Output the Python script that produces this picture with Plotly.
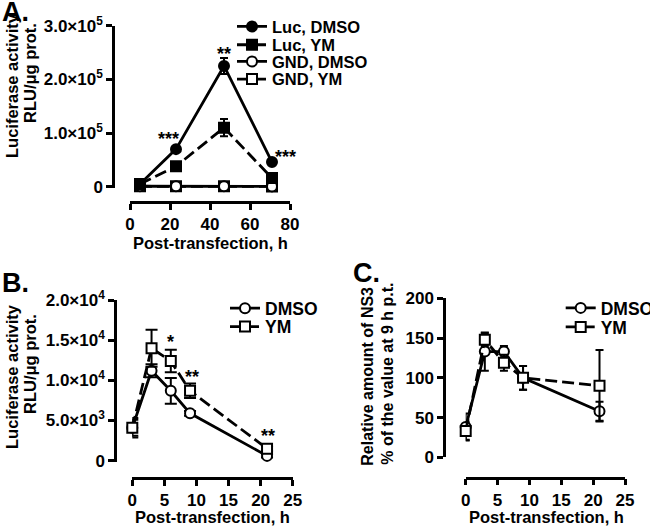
import plotly.graph_objects as go

W, H = 650, 527
FONT = "Liberation Sans"

# ---------------- data ----------------
# Panel A
a_x = [5, 23, 47, 71]
a_luc_dmso = [5000, 70000, 225000, 46000]
a_luc_dmso_err = [1000, 3000, 15000, 3000]
a_luc_ym = [5000, 38000, 110000, 16000]
a_luc_ym_err = [1000, 3000, 16000, 2000]
a_gnd_dmso = [800, 800, 800, 600]
a_gnd_dmso_err = [300, 300, 300, 300]
a_gnd_ym = [800, 800, 800, 600]
a_gnd_ym_err = [300, 300, 300, 300]
a_xticks = [0, 20, 40, 60, 80]
a_yticks = [0, 100000, 200000, 300000]
a_yticktext = ["0", "1.0×10<sup>5</sup>", "2.0×10<sup>5</sup>", "3.0×10<sup>5</sup>"]

# Panel B
b_x = [0, 3, 6, 9, 21]
b_dmso = [4100, 11200, 8700, 5900, 600]
b_dmso_err = [1200, 800, 1600, 300, 200]
b_ym = [4100, 14000, 12400, 8700, 1500]
b_ym_err = [1000, 2300, 1400, 900, 300]
b_xticks = [0, 5, 10, 15, 20, 25]
b_yticks = [0, 5000, 10000, 15000, 20000]
b_yticktext = ["0", "5.0×10<sup>3</sup>", "1.0×10<sup>4</sup>", "1.5×10<sup>4</sup>", "2.0×10<sup>4</sup>"]

# Panel C
c_x = [0, 3, 6, 9, 21]
c_dmso = [38, 133, 133, 100, 58]
c_dmso_err = [17, 24, 7, 15, 12]
c_ym = [33, 148, 119, 100, 90]
c_ym_err = [11, 8, 10, 15, 45]
c_xticks = [0, 5, 10, 15, 20, 25]
c_yticks = [0, 50, 100, 150, 200]

# significance stars (x, y in data units)
a_stars = [("***", 19, 96000), ("**", 47, 255000), ("***", 77.5, 63000)]
b_stars = [("*", 5.9, 15300), ("**", 9.3, 10900), ("**", 21.2, 3600)]


def px(x):
    return x / W


def py(y):
    return 1 - y / H


fig = go.Figure()

LW = 2.8
DASH = "12px,5px"


def add(x, y, err, xa, ya, symbol, fill, dash, name, legend, ew):
    fig.add_trace(go.Scatter(
        x=x, y=y, xaxis=xa, yaxis=ya, name=name, legend=legend,
        mode="lines+markers", cliponaxis=False,
        line=dict(color="black", width=LW, dash=dash),
        marker=dict(symbol=symbol, size=10, color=fill,
                    line=dict(color="black", width=2)),
        error_y=dict(type="data", array=err, visible=True, color="black",
                     thickness=2, width=ew),
    ))


# Panel A (draw order: open symbols first, filled symbols on top)
add(a_x, a_gnd_ym, a_gnd_ym_err, "x", "y", "square", "white", DASH, "GND, YM", "legend4", 4)
add(a_x, a_gnd_dmso, a_gnd_dmso_err, "x", "y", "circle", "white", "solid", "GND, DMSO", "legend3", 4)
add(a_x, a_luc_dmso, a_luc_dmso_err, "x", "y", "circle", "black", "solid", "Luc, DMSO", "legend", 4)
add(a_x, a_luc_ym, a_luc_ym_err, "x", "y", "square", "black", DASH, "Luc, YM", "legend2", 4)

# Panel B
add(b_x, b_dmso, b_dmso_err, "x2", "y2", "circle", "white", "solid", "DMSO", "legend5", 6)
add(b_x, b_ym, b_ym_err, "x2", "y2", "square", "white", DASH, "YM", "legend6", 6)

# Panel C
add(c_x, c_dmso, c_dmso_err, "x3", "y3", "circle", "white", "solid", "DMSO", "legend7", 4)
add(c_x, c_ym, c_ym_err, "x3", "y3", "square", "white", DASH, "YM", "legend8", 4)

axis_common = dict(showline=True, linecolor="black", linewidth=2.5, showgrid=False,
                   zeroline=False, ticks="outside", ticklen=6, tickwidth=2.5,
                   tickcolor="black", anchor="free", automargin=False,
                   tickfont=dict(family=FONT, size=17, color="black", weight="bold"))

layout = dict(
    width=W, height=H, margin=dict(l=0, r=0, t=0, b=0, pad=0, autoexpand=False),
    paper_bgcolor="white", plot_bgcolor="white", showlegend=True,
    xaxis=dict(domain=[px(130), px(290)], range=[0, 80], tickvals=a_xticks,
               position=py(202), **axis_common),
    yaxis=dict(domain=[py(188.2), py(25.7)], range=[-2800, 300000], tickvals=a_yticks,
               ticktext=a_yticktext, position=px(113), **axis_common),
    xaxis2=dict(domain=[px(132.3), px(292.7)], range=[0, 25], tickvals=b_xticks,
                position=py(478.3), **axis_common),
    yaxis2=dict(domain=[py(462.2), py(300)], range=[-187, 20000], tickvals=b_yticks,
                ticktext=b_yticktext, position=px(115), **axis_common),
    xaxis3=dict(domain=[px(465.7), px(625)], range=[0, 25], tickvals=c_xticks,
                position=py(477.7), **axis_common),
    yaxis3=dict(domain=[py(457.3), py(298.3)], range=[0, 200], tickvals=c_yticks,
                position=px(444), **axis_common),
)


def leg(text_left, yc, size):
    return dict(x=px(text_left - 40), y=py(yc), xanchor="left", yanchor="middle",
                bgcolor="rgba(0,0,0,0)", borderwidth=0, itemwidth=30,
                font=dict(family=FONT, size=size, color="black", weight="bold"))


layout["legend"] = leg(272, 26.7, 16.5)
layout["legend2"] = leg(272, 45, 16.5)
layout["legend3"] = leg(272, 61.7, 16.5)
layout["legend4"] = leg(272, 79.3, 16.5)
layout["legend5"] = leg(265, 308.3, 17.5)
layout["legend6"] = leg(265, 326.7, 17.5)
layout["legend7"] = leg(600.7, 308, 17.5)
layout["legend8"] = leg(600.7, 327, 17.5)

fig.update_layout(**layout)

ann = []


def txt(text, x, y, size, angle=0, xanchor="center", yanchor="middle"):
    ann.append(dict(text=text, x=px(x), y=py(y), xref="paper", yref="paper",
                    showarrow=False, textangle=angle, xanchor=xanchor, yanchor=yanchor,
                    font=dict(family=FONT, size=size, color="black", weight="bold")))


# panel letters
txt("A.", 0, 12, 27, xanchor="left")
txt("B.", 0, 283, 27, xanchor="left")
txt("C.", 351, 273, 27, xanchor="left")

# axis titles
txt("Luciferase activity", 12, 86, 16.5, angle=-90)
txt("RLU/μg prot.", 30, 73, 16.5, angle=-90)
txt("Post-transfection, h", 210, 243, 16.5)
txt("Luciferase activity", 12, 377, 16.5, angle=-90)
txt("RLU/μg prot.", 30, 364, 16.5, angle=-90)
txt("Post-transfection, h", 212.5, 516.7, 16.5)
txt("Relative amount of NS3", 366.7, 376, 16, angle=-90)
txt("% of the value at 9 h p.t.", 386.7, 374, 16, angle=-90)
txt("Post-transfection, h", 546.7, 516.7, 16.5)

for s, x, y in a_stars:
    ann.append(dict(text=s, x=x, y=y, xref="x", yref="y", showarrow=False, yshift=-4,
                    font=dict(family=FONT, size=18, color="black", weight="bold")))
for s, x, y in b_stars:
    ann.append(dict(text=s, x=x, y=y, xref="x2", yref="y2", showarrow=False, yshift=-4,
                    font=dict(family=FONT, size=18, color="black", weight="bold")))

fig.update_layout(annotations=ann)
fig.write_html("out.html", config={"displayModeBar": False},
               post_script="document.body.style.margin='0px';document.body.style.overflow='hidden';")
